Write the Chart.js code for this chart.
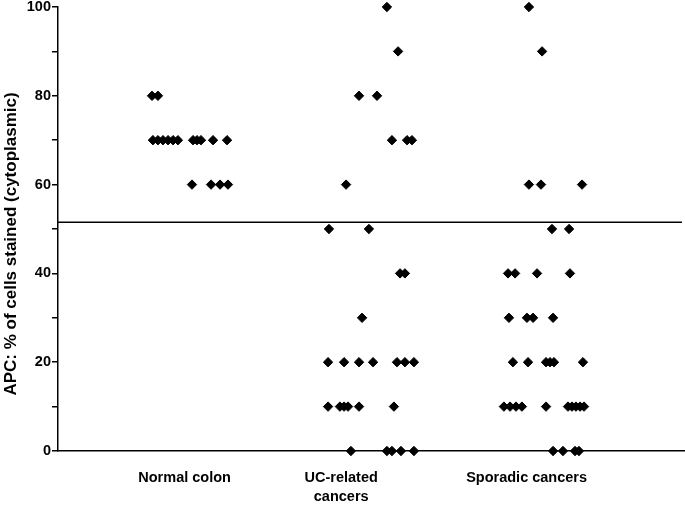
<!DOCTYPE html>
<html>
<head>
<meta charset="utf-8">
<script src="https://cdn.jsdelivr.net/npm/chart.js@4.4.0/dist/chart.umd.min.js"></script>
<style>
  html, body { margin: 0; padding: 0; background: #fff; }
  #chart { display: block; }
</style>
</head>
<body>
<canvas id="chart" width="685" height="506"></canvas>
<script>
// Категории и положение подписей на оси X
const groupLabels = ['Normal colon', ['UC-related', 'cancers'], 'Sporadic cancers'];
const labelPos = [0.97, 1.84, 2.87];

// Normal colon
const normalY = [80, 80,
  70, 70, 70, 70, 70, 70, 70, 70, 70, 70, 70,
  60, 60, 60, 60];
const normalX = [0.789, 0.822,
  0.794, 0.822, 0.850, 0.878, 0.906, 0.933, 1.017, 1.039, 1.061, 1.128, 1.206,
  1.011, 1.117, 1.167, 1.211];

// UC-related cancers
const ucY = [100, 90, 80, 80, 70, 70, 70, 60, 50, 50, 40, 40, 30,
  20, 20, 20, 20, 20, 20, 20,
  10, 10, 10, 10, 10, 10,
  0, 0, 0, 0, 0];
const ucX = [2.094, 2.156, 1.939, 2.039, 2.122, 2.206, 2.233, 1.867, 1.772, 1.994, 2.167, 2.194, 1.956,
  1.767, 1.856, 1.939, 2.017, 2.150, 2.194, 2.244,
  1.767, 1.833, 1.856, 1.878, 1.939, 2.133,
  1.894, 2.094, 2.122, 2.172, 2.244];

// Sporadic cancers
const sporY = [100, 90, 60, 60, 60, 50, 50,
  40, 40, 40, 40,
  30, 30, 30, 30,
  20, 20, 20, 20, 20, 20,
  10, 10, 10, 10, 10, 10, 10, 10, 10, 10,
  0, 0, 0, 0];
const sporX = [2.883, 2.956, 2.883, 2.950, 3.178, 3.011, 3.106,
  2.767, 2.806, 2.928, 3.111,
  2.772, 2.872, 2.906, 3.017,
  2.794, 2.878, 2.978, 3.000, 3.022, 3.183,
  2.744, 2.778, 2.811, 2.844, 2.978, 3.100, 3.122, 3.144, 3.167, 3.189,
  3.017, 3.072, 3.139, 3.161];

// Пороговая линия
const cutoff = 51.5;
const xRange = [0.2667, 3.75];
const yTitle = 'APC: % of cells stained (cytoplasmic)';

const FONT = '"Liberation Sans", Arial, Helvetica, sans-serif';

const pts = (xs, ys) => xs.map((x, i) => ({ x, y: ys[i] }));

const dotStyle = {
  pointStyle: 'rectRot',
  pointRadius: 4.7,
  pointBackgroundColor: '#000',
  pointBorderColor: '#000',
  pointBorderWidth: 1,
  showLine: false,
  clip: false,
};

// Растягиваем область графика до правого края холста
const fullWidth = {
  id: 'fullWidth',
  afterLayout(chart) {
    const x = chart.scales.x;
    chart.chartArea.right = chart.width;
    x.right = chart.width;
    x.width = x.right - x.left;
    x.configure();
  },
};

// Подпись оси Y рисуем сами, чтобы точно поставить центр
const yTitlePlugin = {
  id: 'yTitle',
  afterDraw(chart) {
    const ctx = chart.ctx;
    ctx.save();
    ctx.translate(11, 244);
    ctx.rotate(-Math.PI / 2);
    ctx.font = 'bold 17px ' + FONT;
    ctx.fillStyle = '#000';
    ctx.textAlign = 'center';
    ctx.textBaseline = 'middle';
    ctx.fillText(yTitle, 0, 0);
    ctx.restore();
  },
};

const noPad = s => { s.paddingLeft = 0; s.paddingRight = 0; s.paddingTop = 0; s.paddingBottom = 0; };

new Chart(document.getElementById('chart'), {
  type: 'scatter',
  data: {
    datasets: [
      { label: 'Normal colon', data: pts(normalX, normalY), ...dotStyle },
      { label: 'UC-related cancers', data: pts(ucX, ucY), ...dotStyle },
      { label: 'Sporadic cancers', data: pts(sporX, sporY), ...dotStyle },
      {
        type: 'line',
        label: 'cutoff',
        data: [{ x: xRange[0], y: cutoff }, { x: 3.733, y: cutoff }],
        borderColor: '#000',
        borderWidth: 1.5,
        pointRadius: 0,
        clip: false,
      },
    ],
  },
  options: {
    responsive: false,
    devicePixelRatio: 1,
    animation: false,
    layout: { padding: { top: 7, right: 0, bottom: 0, left: 0 } },
    plugins: {
      legend: { display: false },
      tooltip: { enabled: false },
    },
    scales: {
      x: {
        type: 'linear',
        min: xRange[0],
        max: xRange[1],
        afterBuildTicks: s => { s.ticks = labelPos.map(v => ({ value: v })); },
        afterFit: s => { s.height = 55; noPad(s); },
        ticks: {
          autoSkip: false,
          maxRotation: 0,
          padding: 18,
          color: '#000',
          font: { family: FONT, size: 14.5, weight: 'bold', lineHeight: 1.3 },
          callback: (v, i) => groupLabels[i],
        },
        grid: { drawOnChartArea: false, drawTicks: false },
        border: { display: true, color: '#000', width: 1.5 },
      },
      y: {
        min: 0,
        max: 100,
        afterFit: s => { s.width = 58; noPad(s); },
        ticks: {
          stepSize: 10,
          autoSkip: false,
          padding: 1,
          color: '#000',
          font: { family: FONT, size: 14.5, weight: 'bold' },
          callback: v => (v % 20 === 0 ? v : ''),
        },
        grid: { drawOnChartArea: false, tickLength: 6, color: '#000', lineWidth: 1.5 },
        border: { display: true, color: '#000', width: 1.5 },
      },
    },
  },
  plugins: [fullWidth, yTitlePlugin],
});
</script>
</body>
</html>
